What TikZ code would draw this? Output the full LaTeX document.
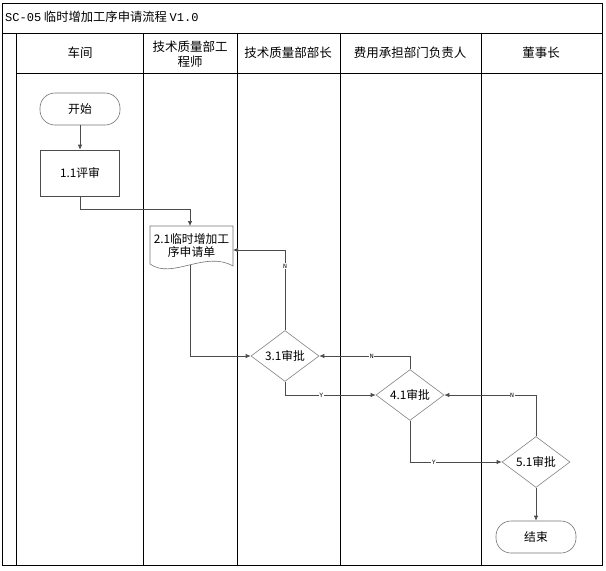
\documentclass[tikz,border=0pt]{standalone}
\usepackage{fontspec}
\setmainfont{Noto Sans CJK SC}
\newfontfamily\monolatin{Liberation Mono}
\usetikzlibrary{shapes.geometric,arrows.meta}
\tikzset{
  lane_line/.style = {draw=black, line width=0.8pt},
  lane_head/.style = {align=center, inner sep=0pt, font=\fontsize{12.5}{15}\selectfont},
  flow_node/.style = {align=center, inner sep=0pt, text centered, font=\fontsize{11.8}{13.5}\selectfont},
  flow_term/.style = {flow_node, rectangle, rounded corners=15pt, draw=black!55, line width=0.6pt, minimum width=80pt, minimum height=32pt},
  flow_box/.style = {flow_node, rectangle, draw=black!70, line width=0.6pt, minimum width=79pt, minimum height=46pt},
  flow_dec/.style = {flow_node, diamond, draw=black!50, line width=0.6pt, minimum width=68pt, minimum height=38pt},
  flow_line/.style = {draw=black!70, line width=0.7pt, -{Latex[length=5pt,width=4.5pt]}},
  yn_label/.style = {fill=white, inner sep=0.6pt, font=\monolatin\fontsize{6.5}{6.5}\selectfont},
}
\newcommand{\numtxt}[1]{{\monolatin\fontsize{12}{13}\selectfont #1}}

\begin{document}
\begin{tikzpicture}[x=1pt,y=-1pt]
  \useasboundingbox (0,0) rectangle (606,571);
  \draw[lane_line] (2,3) rectangle (602,565);
  \draw[lane_line] (2,33) -- (602,33);
  \draw[lane_line] (16,73) -- (602,73);
  \foreach \x in {16,143,237,340,481}
    \draw[lane_line] (\x,33) -- (\x,565);
  \node [anchor=west, inner sep=0pt, font=\fontsize{12.3}{14}\selectfont] (title) at (5,17) {\numtxt{SC-05} 临时增加工序申请流程 \numtxt{V1.0}};
  \node [lane_head] (lane1) at (80,53) {车间};
  \node [lane_head] (lane2) at (190,54) {技术质量部工\\程师};
  \node [lane_head] (lane3) at (288,53) {技术质量部部长};
  \node [lane_head] (lane4) at (410,53) {费用承担部门负责人};
  \node [lane_head] (lane5) at (541,53) {董事长};

  \node [flow_term] (start) at (80,109) {开始};
  \node [flow_box] (s11) at (80,173) {1.1评审};
  \node [flow_node, minimum width=83pt, minimum height=39pt] (doc) at (191.5,245.5) {2.1临时增加工\\序申请单};
  \draw [draw=black!55, line width=0.6pt] (150,264) -- (150,226) -- (233,226) -- (233,266)
    .. controls (205,250) and (172,280) .. (150,264);
  \node [flow_dec] (d31) at (285,356) {3.1审批};
  \node [flow_dec] (d41) at (410,395) {4.1审批};
  \node [flow_dec] (d51) at (536,462) {5.1审批};
  \node [flow_term] (stop) at (536,537) {结束};

  \draw [flow_line] (start) -- (s11);
  \draw [flow_line] (s11.south) -- ++(0,13) -| (190,226);
  \draw [flow_line] (190,265) |- (d31.west);
  \draw [flow_line] (d31.north) |- node [yn_label, pos=0.4] {N} (233,250);
  \draw [flow_line] (d31.south) |- node [yn_label, pos=0.7] {Y} (d41.west);
  \draw [flow_line] (d41.north) |- node [yn_label, pos=0.71] {N} (d31.east);
  \draw [flow_line] (d41.south) |- node [yn_label, pos=0.63] {Y} (d51.west);
  \draw [flow_line] (d51.north) |- node [yn_label, pos=0.63] {N} (d41.east);
  \draw [flow_line] (d51) -- (stop);
\end{tikzpicture}
\end{document}
